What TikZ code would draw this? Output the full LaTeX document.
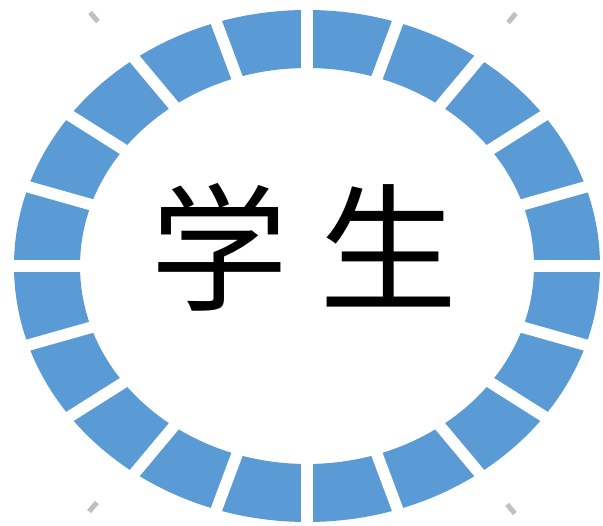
\documentclass[tikz,border=0pt]{standalone}
\usepackage{fontspec}
\newfontfamily\cjk{Noto Sans CJK SC}
\usetikzlibrary{calc}
\definecolor{segblue}{HTML}{5B9BD5}
\definecolor{tickgrey}{HTML}{C0C0C0}
\tikzset{
  ring/.style={fill=segblue, even odd rule},
  gapline/.style={draw=white, line width=11.5pt},
  tickmark/.style={draw=tickgrey, line width=5pt},
  bigtext/.style={inner sep=0pt, anchor=base, font=\cjk\fontsize{138pt}{138pt}\selectfont}
}
\begin{document}
\begin{tikzpicture}[x=1pt,y=-1pt]
\useasboundingbox (0,0) rectangle (603,526);
\coordinate (c) at (307,266);
\fill[ring] (c) ellipse [x radius=293pt, y radius=256pt] (c) ellipse [x radius=227pt, y radius=198pt];
\foreach \t in {0,18,...,342}{
  \draw[gapline] ($(c)+(\t:200pt and 175pt)$) -- ($(c)+(\t:315pt and 275pt)$);
}
\coordinate (k1) at (94,17);
\coordinate (k2) at (512,18);
\coordinate (k3) at (93,507);
\coordinate (k4) at (511,509);
\foreach \k in {k1,k2,k3,k4}{
  \draw[tickmark] ($(\k)!6pt!(c)$) -- ($(\k)!-6pt!(c)$);
}
\node[bigtext] (lbl) at (304,301) {学 生};
\end{tikzpicture}
\end{document}
